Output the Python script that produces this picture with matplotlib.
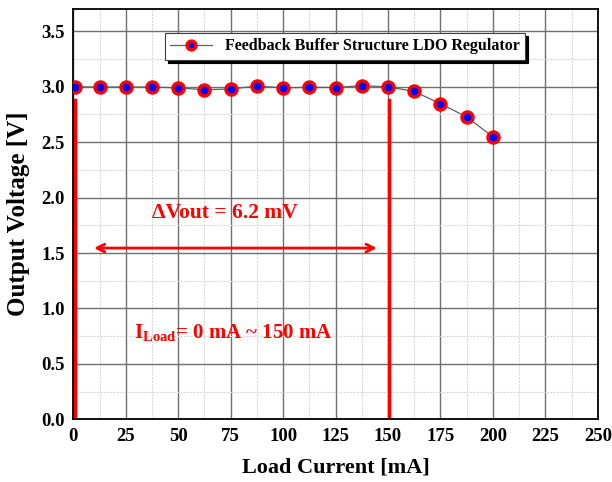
import numpy as np
import matplotlib.pyplot as plt
from matplotlib.ticker import MultipleLocator

load_ma = [1, 12.5, 25, 37.5, 50, 62.5, 75, 87.5, 100, 112.5, 125, 137.5, 150,
           162.5, 175, 187.5, 200]
vout = [3.0, 2.997, 2.998, 2.997, 2.99, 2.973, 2.98, 3.006, 2.99, 2.995, 2.993,
        3.01, 2.999, 2.958, 2.847, 2.728, 2.548]

x_ticks = [0, 25, 50, 75, 100, 125, 150, 175, 200, 225, 250]
y_ticks = [0.0, 0.5, 1.0, 1.5, 2.0, 2.5, 3.0, 3.5]

plt.rcParams['font.family'] = ['Liberation Serif', 'DejaVu Serif']
plt.rcParams['font.weight'] = 'bold'
plt.rcParams['mathtext.fontset'] = 'custom'
plt.rcParams['mathtext.bf'] = 'Liberation Serif:bold'
plt.rcParams['mathtext.rm'] = 'Liberation Serif:bold'

fig = plt.figure(figsize=(6.12, 4.82), dpi=100)
ax = fig.add_axes([0.1198, 0.130, 0.857, 0.851])

ax.set_xlim(0, 250)
ax.set_ylim(0, 3.7)
ax.xaxis.set_minor_locator(MultipleLocator(12.5))
ax.yaxis.set_minor_locator(MultipleLocator(0.25))
ax.set_xticks(x_ticks)
ax.set_yticks(y_ticks)
ax.set_xticklabels([str(t) for t in x_ticks])
ax.set_yticklabels([f"{t:.1f}" for t in y_ticks])
ax.grid(which='major', color='#707070', lw=1.0)
ax.grid(which='minor', color='#d8d8d8', lw=0.8, ls=(0, (2, 1)))
ax.set_axisbelow(True)
ax.tick_params(which='both', length=0, labelsize=13.5, pad=6)
for s in ax.spines.values():
    s.set_linewidth(1.3)

# annotations
ax.plot([0.8, 0.8], [0, 2.88], color='red', lw=2.5)
ax.plot([150.7, 150.7], [0, 2.88], color='red', lw=2.5)
ax.annotate('', xy=(8.5, 1.545), xytext=(146, 1.545),
            arrowprops=dict(arrowstyle='<->', color='red', lw=2, mutation_scale=14))
ax.text(72, 1.86, '\u0394Vout = 6.2 mV', color='red', fontsize=15.5,
        fontweight='bold', ha='center', va='center')
ax.text(29, 0.78, r'I$_{\mathbf{Load}}$= 0 mA ~ 150 mA', color='red', fontsize=15,
        fontweight='bold', ha='left', va='center')

ax.plot(load_ma, vout, color='#606060', lw=0.9, marker='o', markersize=8,
        markerfacecolor='blue', markeredgecolor='red', markeredgewidth=2.4,
        label='Feedback Buffer Structure LDO Regulator', zorder=5)

leg = ax.legend(loc='upper center', bbox_to_anchor=(0.518, 0.962), fancybox=False,
                shadow={'color': 'black', 'alpha': 1}, framealpha=1,
                edgecolor='#404040', prop={'weight': 'bold', 'size': 11.5},
                handlelength=2.6, borderpad=0.35, markerscale=0.8)
leg.get_frame().set_linewidth(0.8)

ax.set_xlabel('Load Current [mA]', fontsize=16, fontweight='bold', labelpad=9)
ax.set_ylabel('Output Voltage [V]', fontsize=18, fontweight='bold', labelpad=8)

fig.savefig('out.png', dpi=100)
